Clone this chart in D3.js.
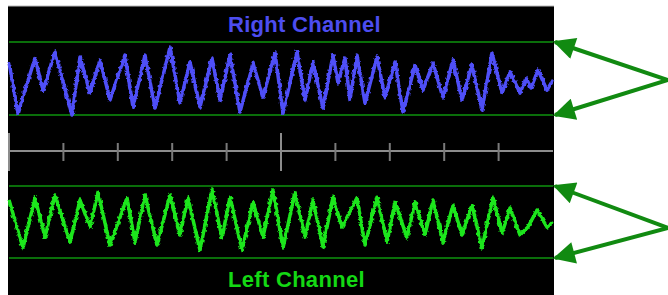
<!DOCTYPE html>
<html>
<head>
<meta charset="utf-8">
<script src="https://cdn.jsdelivr.net/npm/d3@7"></script>
<style>
  body { margin: 0; background: #fff; }
  svg { display: block; }
  .title { font-family: "Liberation Sans", Arial, sans-serif; font-weight: bold; font-size: 22px; letter-spacing: 0.3px; }
</style>
</head>
<body>
<div id="chart"></div>
<script>
// time in ms (0..100), amplitude normalised to the guide lines (-1..1)
var rightTime = [0,1.65,4.78,6.25,8.46,11.58,13.05,14.89,16.73,18.57,21.32,22.79,25.0,26.84,29.6,31.43,33.27,35.11,37.32,38.79,40.63,42.46,44.85,46.69,48.9,50.37,52.94,54.41,55.88,57.72,59.56,60.48,61.76,62.68,63.97,65.44,67.65,69.12,70.96,72.43,74.63,76.1,77.94,79.78,81.62,83.27,85.11,86.95,88.79,90.63,92.1,93.93,95.04,95.96,97.24,98.9,100];
var rightAmp = [0.45,-0.95,0.56,-0.32,0.73,-1.0,0.59,-0.40,0.51,-0.59,0.64,-0.78,0.64,-0.81,0.86,-0.67,0.45,-0.78,0.56,-0.59,0.64,-0.92,0.42,-0.51,0.70,-0.95,0.73,-0.59,0.45,-0.81,0.64,-0.12,0.56,-0.59,0.64,-0.67,0.59,-0.53,0.45,-0.92,0.37,-0.32,0.42,-0.53,0.51,-0.59,0.37,-0.86,0.70,-0.40,0.18,-0.40,0.01,-0.26,0.23,-0.32,-0.04];

var leftTime = [0,2.57,4.78,6.62,8.46,11.21,13.05,14.89,16.36,18.57,21.69,23.16,25.0,27.21,29.6,31.43,32.9,35.11,37.32,39.15,40.63,42.83,44.85,46.69,48.53,50.37,52.57,54.41,55.88,57.72,59.56,61.21,63.97,65.44,67.65,69.49,70.96,73.16,74.63,76.47,77.94,79.78,81.62,83.27,85.11,86.95,88.97,90.63,92.1,93.93,95.4,97.06,98.9,100];
var leftAmp = [0.61,-0.72,0.67,-0.42,0.75,-0.56,0.61,-0.14,0.83,-0.64,0.67,-0.56,0.75,-0.64,0.75,-0.36,0.67,-0.78,0.89,-0.44,0.69,-0.78,0.56,-0.42,0.89,-0.72,0.83,-0.42,0.61,-0.69,0.69,-0.14,0.67,-0.64,0.69,-0.56,0.56,-0.44,0.56,-0.36,0.61,-0.56,0.47,-0.36,0.47,-0.72,0.69,-0.31,0.39,-0.36,-0.14,0.33,-0.14,0];

var minorTicks = [0,10,20,30,40,60,70,80,90];
var majorTicks = [0,50];
var titles = ['Right Channel', 'Left Channel'];

var width = 668, height = 295;

var svg = d3.select('#chart').append('svg')
    .attr('width', width)
    .attr('height', height);

var defs = svg.append('defs');
var f = defs.append('filter').attr('id', 'rough')
    .attr('x', '-5%').attr('y', '-20%').attr('width', '110%').attr('height', '140%');
f.append('feTurbulence').attr('type', 'fractalNoise').attr('baseFrequency', 0.3)
    .attr('numOctaves', 2).attr('seed', 4).attr('result', 'n');
f.append('feDisplacementMap').attr('in', 'SourceGraphic').attr('in2', 'n')
    .attr('scale', 4).attr('xChannelSelector', 'R').attr('yChannelSelector', 'G');

defs.append('marker').attr('id', 'arr')
    .attr('viewBox', '0 0 10 10').attr('refX', 9).attr('refY', 5)
    .attr('markerWidth', 6).attr('markerHeight', 5.5).attr('orient', 'auto')
    .attr('markerUnits', 'strokeWidth')
    .append('path').attr('d', 'M0,0 L10,5 L0,10 Z').attr('fill', '#118a11');

// panel
svg.append('rect').attr('x', 8).attr('y', 6).attr('width', 546).attr('height', height - 6)
    .attr('fill', '#000');
svg.append('line').attr('x1', 8).attr('x2', 554).attr('y1', 6).attr('y2', 6)
    .attr('stroke', '#bbb').attr('stroke-width', 1);

var x = d3.scaleLinear().domain([0, 100]).range([9, 553]);
var yRight = d3.scaleLinear().domain([-1, 1]).range([115, 42]);
var yLeft = d3.scaleLinear().domain([-1, 1]).range([258, 186]);
var axisY = 151;

var drawChannel = function(time, amp, y, color) {
    y.domain().forEach(function(v) {
        svg.append('line')
            .attr('x1', x(0)).attr('x2', x(100))
            .attr('y1', y(v)).attr('y2', y(v))
            .attr('stroke', '#0a6e0a').attr('stroke-width', 2);
    });
    var pts = time.map(function(t, i) { return [t, amp[i]]; });
    var line = d3.line().x(d => x(d[0])).y(d => y(d[1]));
    svg.append('path')
        .attr('d', line(pts))
        .attr('fill', 'none')
        .attr('stroke', color)
        .attr('stroke-width', 2)
        .attr('stroke-linejoin', 'round');
    svg.append('path')
        .attr('d', line(pts))
        .attr('fill', 'none')
        .attr('stroke', color)
        .attr('stroke-width', 3.5)
        .attr('stroke-linejoin', 'round')
        .attr('filter', 'url(#rough)');
};

drawChannel(rightTime, rightAmp, yRight, '#4f4ff8');
drawChannel(leftTime, leftAmp, yLeft, '#1ee61e');

// time axis
svg.append('line').attr('x1', x(0)).attr('x2', x(100)).attr('y1', axisY).attr('y2', axisY)
    .attr('stroke', '#8c8c8c').attr('stroke-width', 2);
svg.selectAll('.minor').data(minorTicks).enter().append('line')
    .attr('x1', d => x(d)).attr('x2', d => x(d))
    .attr('y1', axisY - 8).attr('y2', axisY + 10)
    .attr('stroke', '#7a7a7a').attr('stroke-width', 2);
svg.selectAll('.major').data(majorTicks).enter().append('line')
    .attr('x1', d => x(d)).attr('x2', d => x(d))
    .attr('y1', axisY - 18).attr('y2', axisY + 20)
    .attr('stroke', '#8c8c8c').attr('stroke-width', 2);

// titles
svg.append('text').attr('class', 'title').attr('x', 228).attr('y', 32)
    .attr('fill', '#4d4df0').text(titles[0]);
svg.append('text').attr('class', 'title').attr('x', 228).attr('y', 287)
    .attr('fill', '#14d814').text(titles[1]);

// arrows pointing at the guide lines
[[yRight, 80], [yLeft, 228]].forEach(function(a) {
    var y = a[0];
    y.domain().forEach(function(v) {
        svg.append('line')
            .attr('x1', width).attr('y1', a[1])
            .attr('x2', x(100) + 2).attr('y2', y(v))
            .attr('stroke', '#118a11').attr('stroke-width', 4)
            .attr('marker-end', 'url(#arr)');
    });
});
</script>
</body>
</html>
